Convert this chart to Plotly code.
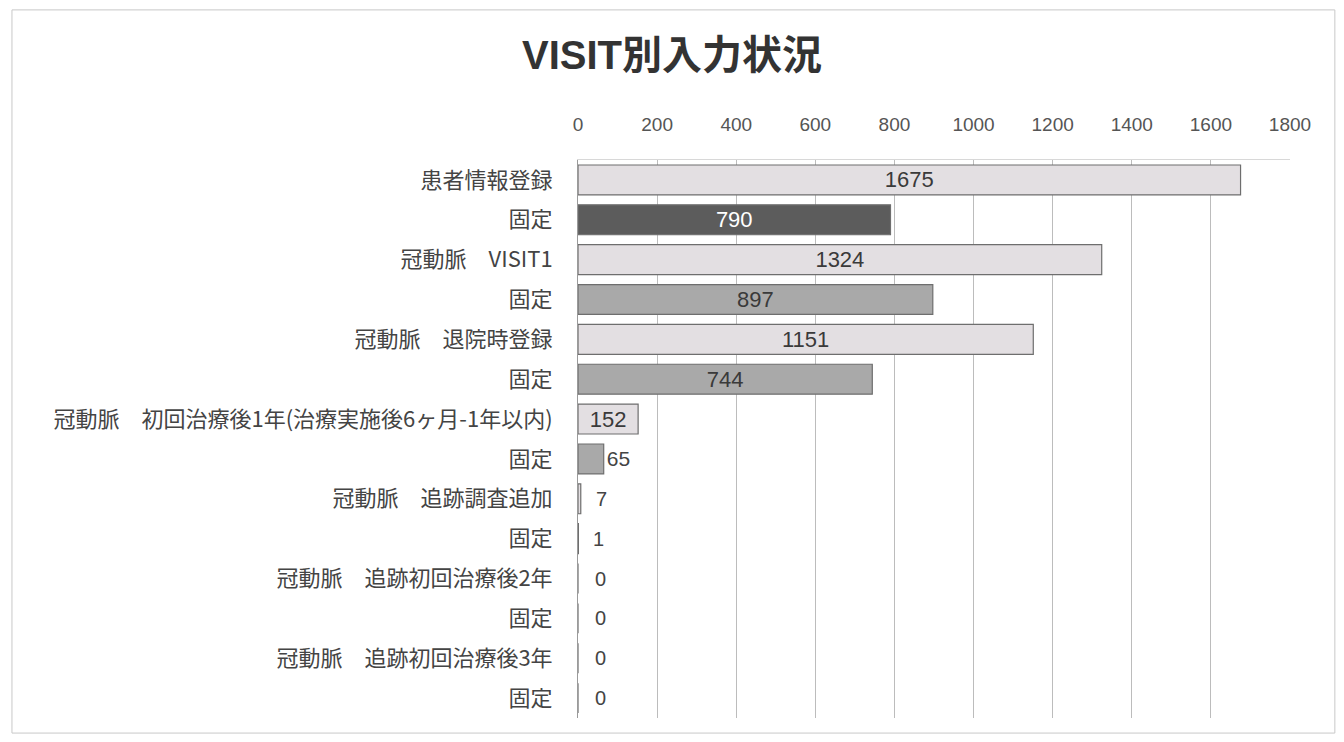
import plotly.graph_objects as go

# categories top to bottom, and their counts
labels = [
    "患者情報登録", "固定",
    "冠動脈　VISIT1", "固定",
    "冠動脈　退院時登録", "固定",
    "冠動脈　初回治療後1年(治療実施後6ヶ月-1年以内)", "固定",
    "冠動脈　追跡調査追加", "固定",
    "冠動脈　追跡初回治療後2年", "固定",
    "冠動脈　追跡初回治療後3年", "固定",
]
counts = [1675, 790, 1324, 897, 1151, 744, 152, 65, 7, 1, 0, 0, 0, 0]
x_ticks = [0, 200, 400, 600, 800, 1000, 1200, 1400, 1600, 1800]

pos = list(range(len(labels)))

# fill colours: visit rows light, first 固定 dark, other 固定 mid grey
fill = []
txt_col = []
for i, lab in enumerate(labels):
    if lab == "固定":
        fill.append("#5c5c5c" if i == 1 else "#a9a9a9")
        txt_col.append("#ffffff" if i == 1 else "#3a3a3a")
    else:
        fill.append("#e3dfe2")
        txt_col.append("#3a3a3a")

FONT = "Liberation Sans, Arial, Noto Sans CJK JP, sans-serif"
SMALL = 30  # bars too short to carry a label; labelled next to the axis

fig = go.Figure(go.Bar(
    x=counts, y=pos, orientation="h",
    marker=dict(color=fill, line=dict(color="#6e6e6e", width=1.2)),
    text=[str(c) if c >= SMALL else "" for c in counts], textposition="auto",
    insidetextanchor="middle", constraintext="none",
    insidetextfont=dict(color=txt_col, size=22, family=FONT),
    outsidetextfont=dict(color="#444444", size=21, family=FONT),
    cliponaxis=False, showlegend=False,
))

for c, p in zip(counts, pos):
    if c < SMALL:
        fig.add_annotation(x=c, y=p, text=str(c), showarrow=False,
                           xanchor="left", xshift=13 if c else 15,
                           font=dict(size=20, color="#444444", family=FONT))

fig.update_layout(
    width=1328, height=726,
    paper_bgcolor="white", plot_bgcolor="white",
    margin=dict(l=570, r=46, t=152, b=16),
    bargap=0.25,
    font=dict(family=FONT, color="#444444"),
    title=dict(text="<b>VISIT別入力状況</b>", x=0.5, xref="container",
               y=0.935, yanchor="middle",
               font=dict(size=40, color="#333333",
                         family="Liberation Sans Narrow, Liberation Sans, Noto Sans CJK JP, sans-serif")),
    xaxis=dict(side="top", range=[0, 1800], tickvals=x_ticks,
               showgrid=True, gridcolor="#bcbcbc", gridwidth=1,
               zeroline=False, showline=True, linecolor="#d8d8d8",
               tickfont=dict(size=19, color="#555555"), ticks="", ticklabelstandoff=20),
    yaxis=dict(tickvals=pos, ticktext=labels, autorange="reversed",
               showline=True, linecolor="#9a9a9a", linewidth=1,
               ticks="", showgrid=False, zeroline=False,
               tickfont=dict(size=22, color="#444444", family="Noto Sans CJK JP, sans-serif"),
               ticklabelstandoff=20),
)

# outer frame of the chart area
fig.add_shape(type="rect", xref="paper", yref="paper",
              x0=-0.795, x1=1.063, y0=-0.027, y1=1.269,
              line=dict(color="#c8c8c8", width=1))

fig.write_html("out.html")
